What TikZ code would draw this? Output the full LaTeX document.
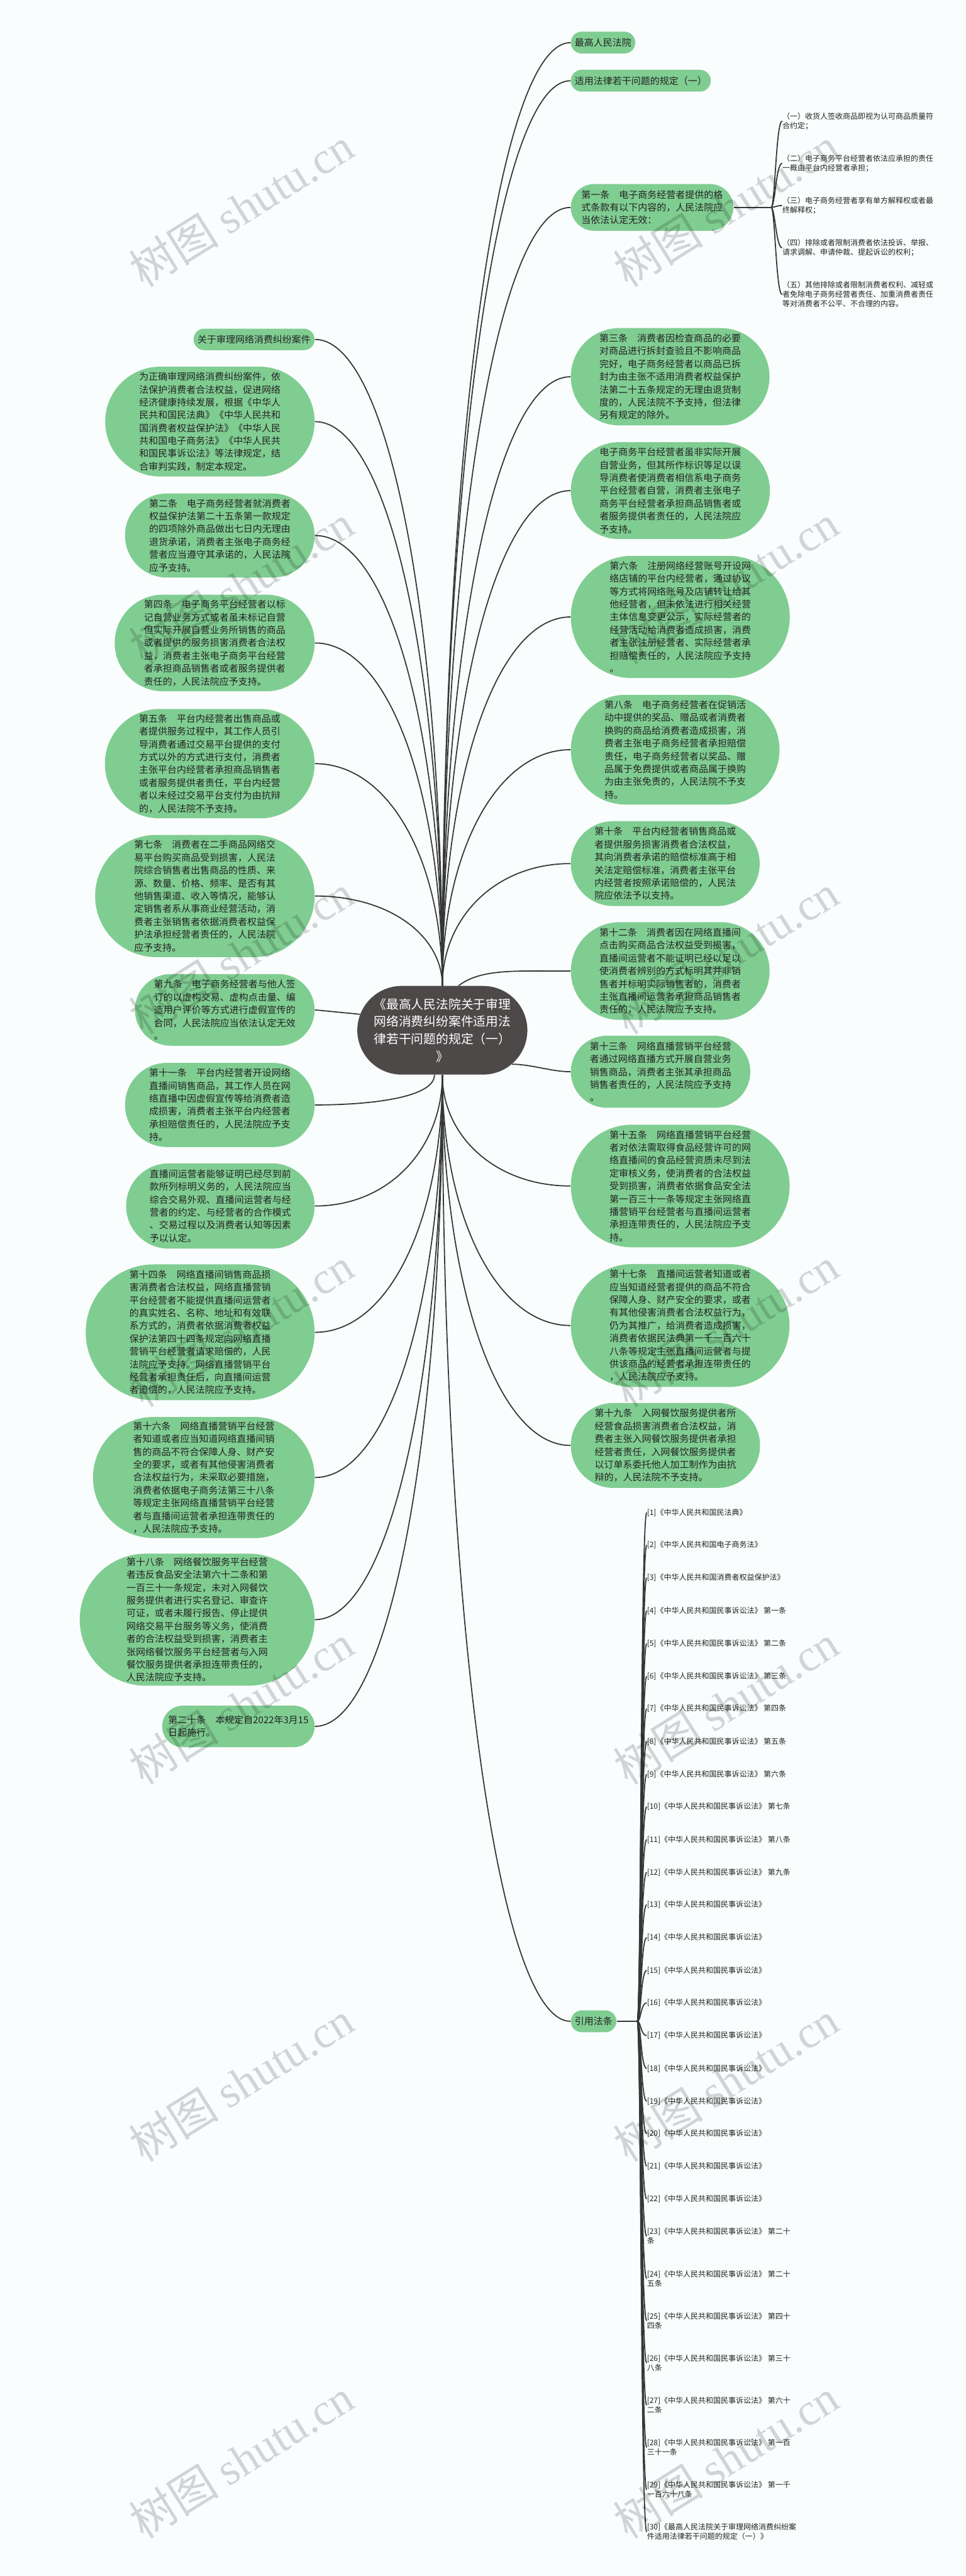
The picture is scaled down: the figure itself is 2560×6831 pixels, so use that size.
\documentclass[tikz,border=0pt]{standalone}
\usepackage{fontspec}
\setmainfont{Noto Sans CJK SC}
\newfontfamily\wmfont{Liberation Serif}
\usetikzlibrary{shapes.misc}
\definecolor{nodegreen}{RGB}{128,205,146}
\definecolor{rootgray}{RGB}{77,73,73}
\definecolor{txt}{RGB}{35,35,35}
\definecolor{linec}{RGB}{55,55,55}
\definecolor{bgc}{RGB}{250,253,253}
\tikzset{
 gbox/.style={rounded rectangle, fill=nodegreen, text=txt, align=left, inner xsep=0.08cm, inner ysep=0.04cm, font=\fontsize{7.11pt}{9.67pt}\selectfont},
 rootbox/.style={rounded rectangle, fill=rootgray, text=white, align=center, inner xsep=0.08cm, font=\fontsize{9.39pt}{13.1pt}\selectfont},
 smalltxt/.style={align=left, inner sep=0pt, text=txt, font=\fontsize{5.69pt}{7.1pt}\selectfont},
 conn/.style={draw=linec, line width=0.85pt},
 wm/.style={rotate=32, text=black, opacity=0.16, inner sep=0pt, font=\fontsize{34pt}{34pt}\selectfont}
}
\begin{document}
\begin{tikzpicture}[x=0.01cm,y=-0.01cm]
\fill[bgc] (0,0) rectangle (2560,6831);
\useasboundingbox (0,0) rectangle (2560,6831);

% root
\node[rootbox, minimum height=2.35cm] (root) at (1173,2732) {《最高人民法院关于审理\\网络消费纠纷案件适用法\\律若干问题的规定（一）\\》};

% right nodes
\node[gbox, minimum height=0.58cm, anchor=west] (r1) at (1513,113) {最高人民法院};
\node[gbox, minimum height=0.58cm, anchor=west] (r2) at (1513,214) {适用法律若干问题的规定（一）};
\node[gbox, minimum height=1.24cm, anchor=west] (r3) at (1513,550) {第一条　电子商务经营者提供的格\\式条款有以下内容的，人民法院应\\当依法认定无效：};
\node[gbox, minimum height=2.58cm, anchor=west] (r4) at (1513,999) {第三条　消费者因检查商品的必要\\对商品进行拆封查验且不影响商品\\完好，电子商务经营者以商品已拆\\封为由主张不适用消费者权益保护\\法第二十五条规定的无理由退货制\\度的，人民法院不予支持，但法律\\另有规定的除外。};
\node[gbox, minimum height=2.57cm, anchor=west] (r5) at (1513,1301) {电子商务平台经营者虽非实际开展\\自营业务，但其所作标识等足以误\\导消费者使消费者相信系电子商务\\平台经营者自营，消费者主张电子\\商务平台经营者承担商品销售者或\\者服务提供者责任的，人民法院应\\予支持。};
\node[gbox, minimum height=3.24cm, anchor=west] (r6) at (1513,1636) {第六条　注册网络经营账号开设网\\络店铺的平台内经营者，通过协议\\等方式将网络账号及店铺转让给其\\他经营者，但未依法进行相关经营\\主体信息变更公示，实际经营者的\\经营活动给消费者造成损害，消费\\者主张注册经营者、实际经营者承\\担赔偿责任的，人民法院应予支持\\。};
\node[gbox, minimum height=2.91cm, anchor=west] (r7) at (1513,1988) {第八条　电子商务经营者在促销活\\动中提供的奖品、赠品或者消费者\\换购的商品给消费者造成损害，消\\费者主张电子商务经营者承担赔偿\\责任，电子商务经营者以奖品、赠\\品属于免费提供或者商品属于换购\\为由主张免责的，人民法院不予支\\持。};
\node[gbox, minimum height=2.25cm, anchor=west] (r8) at (1513,2290) {第十条　平台内经营者销售商品或\\者提供服务损害消费者合法权益，\\其向消费者承诺的赔偿标准高于相\\关法定赔偿标准，消费者主张平台\\内经营者按照承诺赔偿的，人民法\\院应依法予以支持。};
\node[gbox, minimum height=2.59cm, anchor=west] (r9) at (1513,2575) {第十二条　消费者因在网络直播间\\点击购买商品合法权益受到损害，\\直播间运营者不能证明已经以足以\\使消费者辨别的方式标明其并非销\\售者并标明实际销售者的，消费者\\主张直播间运营者承担商品销售者\\责任的，人民法院应予支持。};
\node[gbox, minimum height=1.91cm, anchor=west] (r10) at (1513,2842) {第十三条　网络直播营销平台经营\\者通过网络直播方式开展自营业务\\销售商品，消费者主张其承担商品\\销售者责任的，人民法院应予支持\\。};
\node[gbox, minimum height=3.25cm, anchor=west] (r11) at (1513,3145) {第十五条　网络直播营销平台经营\\者对依法需取得食品经营许可的网\\络直播间的食品经营资质未尽到法\\定审核义务，使消费者的合法权益\\受到损害，消费者依据食品安全法\\第一百三十一条等规定主张网络直\\播营销平台经营者与直播间运营者\\承担连带责任的，人民法院应予支\\持。};
\node[gbox, minimum height=3.26cm, anchor=west] (r12) at (1513,3515) {第十七条　直播间运营者知道或者\\应当知道经营者提供的商品不符合\\保障人身、财产安全的要求，或者\\有其他侵害消费者合法权益行为，\\仍为其推广，给消费者造成损害，\\消费者依据民法典第一千一百六十\\八条等规定主张直播间运营者与提\\供该商品的经营者承担连带责任的\\，人民法院应予支持。};
\node[gbox, minimum height=2.25cm, anchor=west] (r13) at (1513,3833) {第十九条　入网餐饮服务提供者所\\经营食品损害消费者合法权益，消\\费者主张入网餐饮服务提供者承担\\经营者责任，入网餐饮服务提供者\\以订单系委托他人加工制作为由抗\\辩的，人民法院不予支持。};
\node[gbox, minimum height=0.58cm, anchor=west] (r14) at (1513,5360) {引用法条};

% left nodes
\node[gbox, minimum height=0.57cm, anchor=east] (l1) at (835,900) {关于审理网络消费纠纷案件};
\node[gbox, minimum height=2.91cm, anchor=east] (l2) at (835,1118) {为正确审理网络消费纠纷案件，依\\法保护消费者合法权益，促进网络\\经济健康持续发展，根据《中华人\\民共和国民法典》《中华人民共和\\国消费者权益保护法》《中华人民\\共和国电子商务法》《中华人民共\\和国民事诉讼法》等法律规定，结\\合审判实践，制定本规定。};
\node[gbox, minimum height=2.23cm, anchor=east] (l3) at (835,1420) {第二条　电子商务经营者就消费者\\权益保护法第二十五条第一款规定\\的四项除外商品做出七日内无理由\\退货承诺，消费者主张电子商务经\\营者应当遵守其承诺的，人民法院\\应予支持。};
\node[gbox, minimum height=2.56cm, anchor=east] (l4) at (835,1705) {第四条　电子商务平台经营者以标\\记自营业务方式或者虽未标记自营\\但实际开展自营业务所销售的商品\\或者提供的服务损害消费者合法权\\益，消费者主张电子商务平台经营\\者承担商品销售者或者服务提供者\\责任的，人民法院应予支持。};
\node[gbox, minimum height=2.90cm, anchor=east] (l5) at (835,2025) {第五条　平台内经营者出售商品或\\者提供服务过程中，其工作人员引\\导消费者通过交易平台提供的支付\\方式以外的方式进行支付，消费者\\主张平台内经营者承担商品销售者\\或者服务提供者责任，平台内经营\\者以未经过交易平台支付为由抗辩\\的，人民法院不予支持。};
\node[gbox, minimum height=3.24cm, anchor=east] (l6) at (835,2376) {第七条　消费者在二手商品网络交\\易平台购买商品受到损害，人民法\\院综合销售者出售商品的性质、来\\源、数量、价格、频率、是否有其\\他销售渠道、收入等情况，能够认\\定销售者系从事商业经营活动，消\\费者主张销售者依据消费者权益保\\护法承担经营者责任的，人民法院\\应予支持。};
\node[gbox, minimum height=1.90cm, anchor=east] (l7) at (835,2678) {第九条　电子商务经营者与他人签\\订的以虚构交易、虚构点击量、编\\造用户评价等方式进行虚假宣传的\\合同，人民法院应当依法认定无效\\。};
\node[gbox, minimum height=2.23cm, anchor=east] (l8) at (835,2930) {第十一条　平台内经营者开设网络\\直播间销售商品，其工作人员在网\\络直播中因虚假宣传等给消费者造\\成损害，消费者主张平台内经营者\\承担赔偿责任的，人民法院应予支\\持。};
\node[gbox, minimum height=2.26cm, anchor=east] (l9) at (835,3198) {直播间运营者能够证明已经尽到前\\款所列标明义务的，人民法院应当\\综合交易外观、直播间运营者与经\\营者的约定、与经营者的合作模式\\、交易过程以及消费者认知等因素\\予以认定。};
\node[gbox, minimum height=3.60cm, anchor=east] (l10) at (835,3533) {第十四条　网络直播间销售商品损\\害消费者合法权益，网络直播营销\\平台经营者不能提供直播间运营者\\的真实姓名、名称、地址和有效联\\系方式的，消费者依据消费者权益\\保护法第四十四条规定向网络直播\\营销平台经营者请求赔偿的，人民\\法院应予支持。网络直播营销平台\\经营者承担责任后，向直播间运营\\者追偿的，人民法院应予支持。};
\node[gbox, minimum height=3.21cm, anchor=east] (l11) at (835,3918) {第十六条　网络直播营销平台经营\\者知道或者应当知道网络直播间销\\售的商品不符合保障人身、财产安\\全的要求，或者有其他侵害消费者\\合法权益行为，未采取必要措施，\\消费者依据电子商务法第三十八条\\等规定主张网络直播营销平台经营\\者与直播间运营者承担连带责任的\\，人民法院应予支持。};
\node[gbox, minimum height=3.50cm, anchor=east] (l12) at (835,4295) {第十八条　网络餐饮服务平台经营\\者违反食品安全法第六十二条和第\\一百三十一条规定，未对入网餐饮\\服务提供者进行实名登记、审查许\\可证，或者未履行报告、停止提供\\网络交易平台服务等义务，使消费\\者的合法权益受到损害，消费者主\\张网络餐饮服务平台经营者与入网\\餐饮服务提供者承担连带责任的，\\人民法院应予支持。};
\node[gbox, minimum height=1.10cm, anchor=east] (l13) at (835,4578) {第二十条　本规定自2022年3月15\\日起施行。};

% sub items of 第一条
\node[smalltxt, anchor=west] (c1) at (2074,321) {（一）收货人签收商品即视为认可商品质量符\\合约定；};
\node[smalltxt, anchor=west] (c2) at (2074,433) {（二）电子商务平台经营者依法应承担的责任\\一概由平台内经营者承担；};
\node[smalltxt, anchor=west] (c3) at (2074,545) {（三）电子商务经营者享有单方解释权或者最\\终解释权；};
\node[smalltxt, anchor=west] (c4) at (2074,657) {（四）排除或者限制消费者依法投诉、举报、\\请求调解、申请仲裁、提起诉讼的权利；};
\node[smalltxt, anchor=west] (c5) at (2074,781) {（五）其他排除或者限制消费者权利、减轻或\\者免除电子商务经营者责任、加重消费者责任\\等对消费者不公平、不合理的内容。};

% citations
\node[smalltxt, anchor=west] (k1) at (1715,4011) {[1]《中华人民共和国民法典》};
\node[smalltxt, anchor=west] (k2) at (1715,4097) {[2]《中华人民共和国电子商务法》};
\node[smalltxt, anchor=west] (k3) at (1715,4184) {[3]《中华人民共和国消费者权益保护法》};
\node[smalltxt, anchor=west] (k4) at (1715,4271) {[4]《中华人民共和国民事诉讼法》 第一条};
\node[smalltxt, anchor=west] (k5) at (1715,4358) {[5]《中华人民共和国民事诉讼法》 第二条};
\node[smalltxt, anchor=west] (k6) at (1715,4445) {[6]《中华人民共和国民事诉讼法》 第三条};
\node[smalltxt, anchor=west] (k7) at (1715,4531) {[7]《中华人民共和国民事诉讼法》 第四条};
\node[smalltxt, anchor=west] (k8) at (1715,4618) {[8]《中华人民共和国民事诉讼法》 第五条};
\node[smalltxt, anchor=west] (k9) at (1715,4705) {[9]《中华人民共和国民事诉讼法》 第六条};
\node[smalltxt, anchor=west] (k10) at (1715,4791) {[10]《中华人民共和国民事诉讼法》 第七条};
\node[smalltxt, anchor=west] (k11) at (1715,4878) {[11]《中华人民共和国民事诉讼法》 第八条};
\node[smalltxt, anchor=west] (k12) at (1715,4965) {[12]《中华人民共和国民事诉讼法》 第九条};
\node[smalltxt, anchor=west] (k13) at (1715,5051) {[13]《中华人民共和国民事诉讼法》};
\node[smalltxt, anchor=west] (k14) at (1715,5138) {[14]《中华人民共和国民事诉讼法》};
\node[smalltxt, anchor=west] (k15) at (1715,5225) {[15]《中华人民共和国民事诉讼法》};
\node[smalltxt, anchor=west] (k16) at (1715,5311) {[16]《中华人民共和国民事诉讼法》};
\node[smalltxt, anchor=west] (k17) at (1715,5398) {[17]《中华人民共和国民事诉讼法》};
\node[smalltxt, anchor=west] (k18) at (1715,5485) {[18]《中华人民共和国民事诉讼法》};
\node[smalltxt, anchor=west] (k19) at (1715,5572) {[19]《中华人民共和国民事诉讼法》};
\node[smalltxt, anchor=west] (k20) at (1715,5658) {[20]《中华人民共和国民事诉讼法》};
\node[smalltxt, anchor=west] (k21) at (1715,5744) {[21]《中华人民共和国民事诉讼法》};
\node[smalltxt, anchor=west] (k22) at (1715,5831) {[22]《中华人民共和国民事诉讼法》};
\node[smalltxt, anchor=west] (k23) at (1715,5930) {[23]《中华人民共和国民事诉讼法》 第二十\\条};
\node[smalltxt, anchor=west] (k24) at (1715,6042) {[24]《中华人民共和国民事诉讼法》 第二十\\五条};
\node[smalltxt, anchor=west] (k25) at (1715,6154) {[25]《中华人民共和国民事诉讼法》 第四十\\四条};
\node[smalltxt, anchor=west] (k26) at (1715,6266) {[26]《中华人民共和国民事诉讼法》 第三十\\八条};
\node[smalltxt, anchor=west] (k27) at (1715,6378) {[27]《中华人民共和国民事诉讼法》 第六十\\二条};
\node[smalltxt, anchor=west] (k28) at (1715,6490) {[28]《中华人民共和国民事诉讼法》 第一百\\三十一条};
\node[smalltxt, anchor=west] (k29) at (1715,6602) {[29]《中华人民共和国民事诉讼法》 第一千\\一百六十八条};
\node[smalltxt, anchor=west] (k30) at (1715,6714) {[30]《最高人民法院关于审理网络消费纠纷案\\件适用法律若干问题的规定（一）》};

% connectors: top-left
\draw[conn] (root.north) .. controls +(0,-943) and +(200,0) .. (l1.east);
\draw[conn] (root.north) .. controls +(0,-823) and +(200,0) .. (l2.east);
\draw[conn] (root.north) .. controls +(0,-657) and +(200,0) .. (l3.east);
\draw[conn] (root.north) .. controls +(0,-500) and +(200,0) .. (l4.east);
\draw[conn] (root.north) .. controls +(0,-325) and +(200,0) .. (l5.east);
\draw[conn] (root.north) .. controls +(0,-131) and +(200,0) .. (l6.east);
\draw[conn] (l7.east) -- (root.169);
% bottom-left
\draw[conn] (root.-100) .. controls +(0,60) and +(150,0) .. (l8.east);
\draw[conn] (root.south) .. controls +(0,191) and +(200,0) .. (l9.east);
\draw[conn] (root.south) .. controls +(0,376) and +(200,0) .. (l10.east);
\draw[conn] (root.south) .. controls +(0,587) and +(200,0) .. (l11.east);
\draw[conn] (root.south) .. controls +(0,795) and +(200,0) .. (l12.east);
\draw[conn] (root.south) .. controls +(0,950) and +(200,0) .. (l13.east);
% top-right
\draw[conn] (root.north) .. controls +(0,-1376) and +(-200,0) .. (r1.west);
\draw[conn] (root.north) .. controls +(0,-1321) and +(-200,0) .. (r2.west);
\draw[conn] (root.north) .. controls +(0,-1136) and +(-200,0) .. (r3.west);
\draw[conn] (root.north) .. controls +(0,-889) and +(-200,0) .. (r4.west);
\draw[conn] (root.north) .. controls +(0,-723) and +(-200,0) .. (r5.west);
\draw[conn] (root.north) .. controls +(0,-538) and +(-200,0) .. (r6.west);
\draw[conn] (root.north) .. controls +(0,-345) and +(-200,0) .. (r7.west);
\draw[conn] (root.north) .. controls +(0,-179) and +(-200,0) .. (r8.west);
\draw[conn] (root.70) .. controls +(60,-45) and +(-150,0) .. (r9.west);
\draw[conn] (root.-26) .. controls +(50,0) and +(-50,0) .. (r10.west);
% bottom-right
\draw[conn] (root.south) .. controls +(0,162) and +(-200,0) .. (r11.west);
\draw[conn] (root.south) .. controls +(0,366) and +(-200,0) .. (r12.west);
\draw[conn] (root.south) .. controls +(0,541) and +(-200,0) .. (r13.west);
\draw[conn] (root.south) .. controls +(0,1380) and +(-200,0) .. (r14.west);

% bracket of 第一条
\coordinate (j1) at (2045,550);
\draw[conn] (r3.east) -- (j1);
\foreach \c in {c1,c2,c3,c4,c5} {
  \draw[conn] (j1) .. controls +(10,0) and +(-16,0) .. (\c.west);
}
% bracket of citations
\coordinate (j2) at (1690,5360);
\draw[conn] (r14.east) -- (j2);
\foreach \c in {k1,k2,k3,k4,k5,k6,k7,k8,k9,k10,k11,k12,k13,k14,k15,k16,k17,k18,k19,k20,k21,k22,k23,k24,k25,k26,k27,k28,k29,k30} {
  \draw[conn] (j2) .. controls +(10,0) and +(-16,0) .. (\c.west);
}

% watermarks
\foreach \y [count=\i] in {550,1550,2530,3520,4520,5520,6520} {
  \node[wm] (wl\i) at (640,\y) {树图 {\wmfont shutu.cn}};
  \node[wm] (wr\i) at (1925,\y) {树图 {\wmfont shutu.cn}};
}
\end{tikzpicture}
\end{document}
